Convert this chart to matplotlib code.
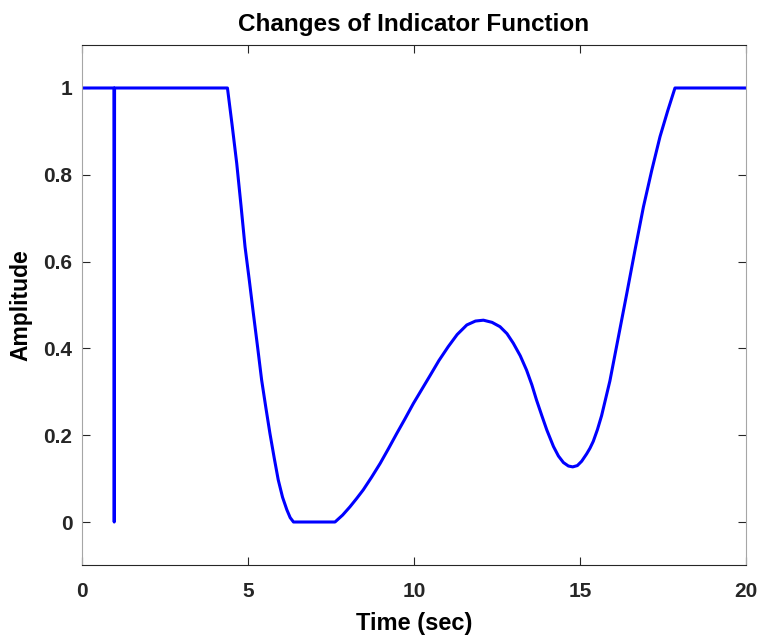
import numpy as np
import matplotlib
matplotlib.use("Agg")
import matplotlib.pyplot as plt

plt.rcParams['font.family'] = ['Liberation Sans', 'DejaVu Sans']
plt.rcParams['font.weight'] = 'bold'

# indicator samples (time in sec, amplitude)
t = [0.0, 0.96, 0.97, 0.98, 4.38,
     4.52, 4.66, 4.79, 4.91, 5.04, 5.16, 5.29, 5.41, 5.54, 5.66, 5.79,
     5.91, 6.04, 6.17, 6.27, 6.37,
     7.62, 7.85, 8.07, 8.27, 8.47, 8.72, 8.98, 9.23, 9.48, 9.73, 9.98,
     10.23, 10.48, 10.75, 11.03, 11.3, 11.59, 11.85, 12.09, 12.35, 12.59,
     12.8, 12.99, 13.2, 13.39, 13.55, 13.69, 13.85, 14.0, 14.2, 14.35,
     14.5, 14.65, 14.78, 14.92, 15.05, 15.2, 15.3, 15.4, 15.525, 15.65,
     15.9, 16.15, 16.41, 16.66, 16.91, 17.16, 17.41, 17.64, 17.86, 20.0]
amp = [1.0, 1.0, 0.0, 1.0, 1.0,
       0.915, 0.826, 0.728, 0.634, 0.556, 0.481, 0.402, 0.327, 0.262, 0.204, 0.147,
       0.097, 0.057, 0.028, 0.010, 0.0,
       0.0, 0.016, 0.035, 0.054, 0.074, 0.103, 0.135, 0.169, 0.204, 0.238, 0.273,
       0.305, 0.337, 0.372, 0.404, 0.432, 0.454, 0.463, 0.465, 0.460, 0.450,
       0.434, 0.412, 0.383, 0.350, 0.316, 0.281, 0.245, 0.212, 0.174, 0.152,
       0.137, 0.129, 0.127, 0.130, 0.140, 0.157, 0.170, 0.186, 0.213, 0.245,
       0.325, 0.424, 0.527, 0.628, 0.726, 0.810, 0.888, 0.947, 1.0, 1.0]

xticks = [0, 5, 10, 15, 20]
yticks = [0, 0.2, 0.4, 0.6, 0.8, 1.0]
ytick_labels = ['0', '0.2', '0.4', '0.6', '0.8', '1']

fig = plt.figure(figsize=(7.61, 6.37), dpi=100)
ax = fig.add_axes([0.1078, 0.1124, 0.8725, 0.8176])

ax.plot(t, amp, color=(0, 0, 1), linewidth=2.2)

ax.set_xlim(0, 20)
ax.set_ylim(-0.1, 1.1)
ax.set_xticks(xticks)
ax.set_yticks(yticks)
ax.set_yticklabels(ytick_labels)
ax.tick_params(direction='in', length=6, width=0.8, colors='#262626',
               labelsize=15, top=True, right=True)
ax.tick_params(axis='y', pad=7)
ax.tick_params(axis='x', pad=12)
for lbl in ax.get_xticklabels() + ax.get_yticklabels():
    lbl.set_fontweight('bold')
for side in ['top', 'bottom']:
    ax.spines[side].set_color('#262626')
for side in ['left', 'right']:
    ax.spines[side].set_color('#a6a6a6')

ax.set_title('Changes of Indicator Function', fontsize=17.5, fontweight='bold', pad=10)
ax.set_xlabel('Time (sec)', fontsize=17, fontweight='bold', labelpad=8)
ax.set_ylabel('Amplitude', fontsize=16.5, fontweight='bold', labelpad=8)

fig.savefig('out.png', dpi=100)
